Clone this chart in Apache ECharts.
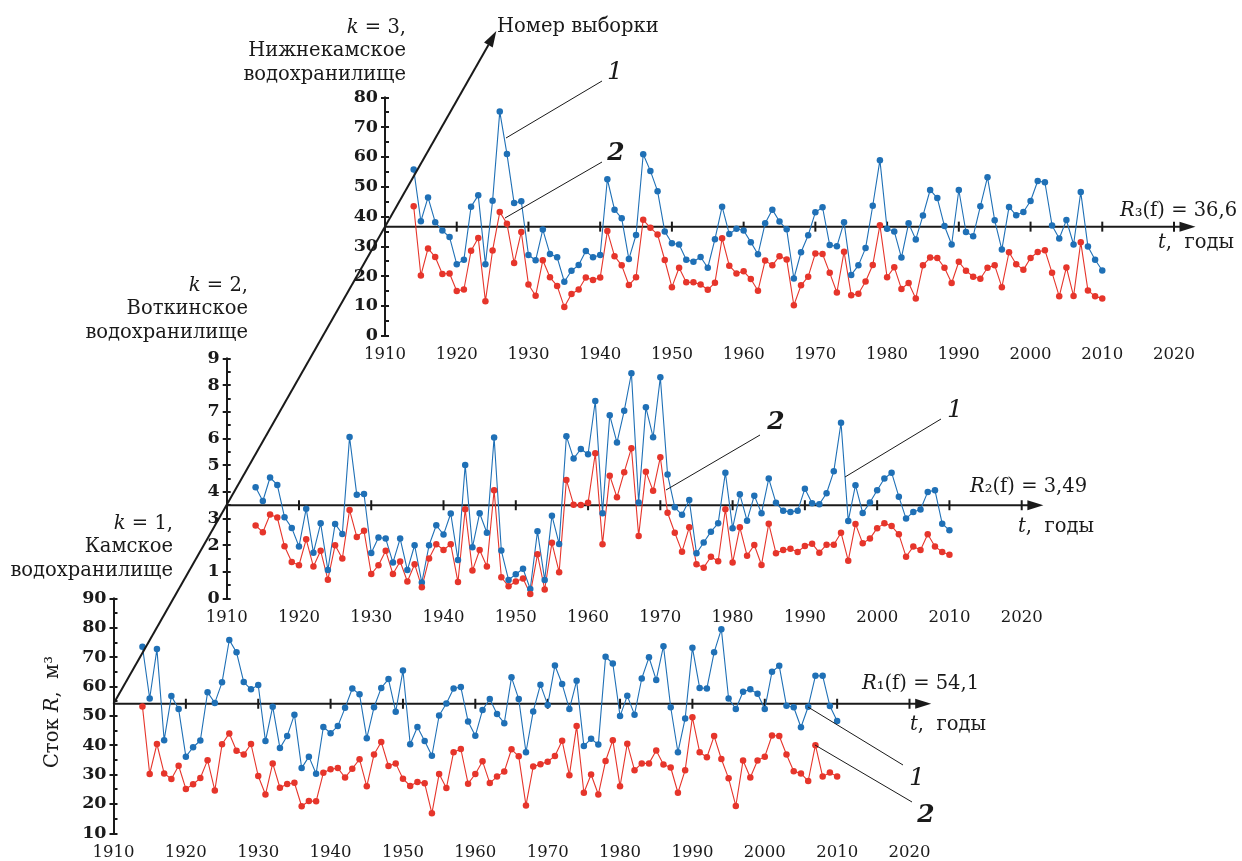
<!DOCTYPE html>
<html>
<head>
<meta charset="utf-8">
<script src="https://cdn.jsdelivr.net/npm/echarts@6/dist/echarts.min.js"></script>
<style>
html,body{margin:0;padding:0;background:#fff;}
#c{width:1242px;height:861px;}
</style>
</head>
<body>
<div id="c"></div>
<script>
// ---- data ----
const FIRST_YEAR = 1914;
const LAST_YEAR = 2010;
const xTicks = [1910, 1920, 1930, 1940, 1950, 1960, 1970, 1980, 1990, 2000, 2010, 2020];

// k = 1, Камское водохранилище
const R1_mean = 54.1;
const kama1 = [73.5,55.9,72.7,41.7,56.7,52.3,36.1,39.3,41.6,58.0,
  54.4,61.4,75.8,71.6,61.5,59.0,60.5,41.4,53.1,39.0,
  43.1,50.4,32.2,36.1,30.3,46.2,44.1,46.5,52.7,59.3,
  57.3,42.4,52.9,59.5,62.5,51.4,65.4,40.3,46.2,41.4,
  36.4,50.1,54.2,59.3,59.8,48.1,43.2,52.0,55.7,50.6,
  47.5,63.1,55.7,37.6,51.5,60.6,53.7,67.1,60.8,52.3,
  61.9,39.7,42.2,40.2,70.1,67.8,49.9,56.8,50.4,62.7,
  69.9,62.2,73.7,52.9,37.6,49.1,73.2,59.5,59.3,71.6,
  79.5,55.9,52.3,58.2,59.0,57.5,52.3,65.0,67.0,53.4,
  52.9,46.1,53.1,63.6,63.6,53.3,48.2];
const kama2 = [53.2,30.2,40.4,30.4,28.5,33.0,25.1,26.7,28.8,34.9,
  24.6,40.3,44.0,38.1,36.8,40.4,29.5,23.2,33.8,25.5,
  26.8,27.2,19.2,21.0,20.9,30.6,31.8,32.2,29.0,32.0,
  35.2,26.0,36.8,41.1,32.9,33.8,28.6,26.1,27.5,27.0,
  16.8,30.2,25.4,37.6,38.7,26.9,30.2,34.5,27.1,29.3,
  31.0,38.6,36.2,19.5,32.7,33.5,34.4,36.3,41.5,29.8,
  46.5,23.8,30.0,23.2,34.6,41.7,26.0,40.5,31.5,33.8,
  33.8,38.2,33.4,32.4,23.8,31.5,49.5,37.6,35.9,43.1,
  35.3,28.7,19.3,34.8,29.0,34.8,36.1,43.3,43.1,36.8,
  31.1,30.4,27.8,40.0,29.3,30.7,29.3];

// k = 2, Воткинское водохранилище
const R2_mean = 3.49;
const votk1 = [4.16,3.65,4.53,4.25,3.04,2.64,1.94,3.36,1.71,2.81,
  1.06,2.79,2.41,6.05,3.88,3.91,1.70,2.28,2.24,1.34,
  2.24,1.06,1.99,0.59,1.99,2.74,2.39,3.18,1.44,5.00,
  1.91,3.19,2.46,6.03,1.79,0.69,0.90,1.11,0.35,2.51,
  0.69,3.10,2.04,6.08,5.24,5.60,5.40,7.40,3.19,6.86,
  5.84,7.03,8.44,3.59,7.16,6.04,8.29,4.64,3.41,3.13,
  3.69,1.69,2.09,2.50,2.81,4.71,2.63,3.90,2.91,3.85,
  3.19,4.49,3.58,3.28,3.24,3.28,4.11,3.56,3.53,3.94,
  4.76,6.58,2.90,4.24,3.20,3.59,4.05,4.49,4.71,3.81,
  2.99,3.24,3.33,3.99,4.05,2.80,2.55];
const votk2 = [2.73,2.48,3.14,3.03,1.95,1.36,1.24,2.21,1.19,1.78,
  0.70,1.99,1.49,3.31,2.30,2.53,0.91,1.24,1.78,0.91,
  1.38,0.63,1.28,0.41,1.49,2.03,1.81,2.03,0.61,3.34,
  1.04,1.81,1.19,4.05,0.79,0.45,0.63,0.74,0.16,1.65,
  0.33,2.08,0.98,4.44,3.51,3.50,3.58,5.44,2.03,4.60,
  3.79,4.73,5.63,2.34,4.75,4.03,5.29,3.21,2.46,1.75,
  2.66,1.28,1.15,1.56,1.39,3.34,1.34,2.66,1.60,2.00,
  1.25,2.80,1.69,1.81,1.86,1.74,1.96,2.05,1.71,2.01,
  2.01,2.46,1.41,2.79,2.06,2.24,2.63,2.81,2.71,2.40,
  1.56,1.94,1.81,2.40,1.94,1.74,1.63];

// k = 3, Нижнекамское водохранилище
const R3_mean = 36.6;
const nizh1 = [55.8,38.4,46.4,38.1,35.3,33.1,24.0,25.5,43.3,47.1,
  24.0,45.3,75.2,61.0,44.5,45.1,27.1,25.3,35.6,27.4,
  26.3,18.1,21.8,23.7,28.4,26.3,27.1,52.5,42.3,39.4,
  25.7,33.8,60.9,55.3,48.5,35.0,31.0,30.6,25.5,24.8,
  26.4,22.8,32.4,43.3,34.1,35.9,35.3,31.4,27.3,37.7,
  42.3,38.3,35.7,19.2,28.0,33.7,41.4,43.1,30.4,30.0,
  38.1,20.4,23.6,29.4,43.6,58.9,35.9,35.0,26.2,37.7,
  32.3,40.3,48.9,46.2,36.8,30.6,48.9,34.8,33.4,43.4,
  53.2,38.7,28.9,43.2,40.4,41.5,45.2,51.9,51.5,37.0,
  32.6,38.8,30.6,48.2,29.9,25.5,21.9];
const nizh2 = [43.4,20.2,29.3,26.4,20.7,20.9,15.0,15.5,28.5,32.8,
  11.6,28.6,41.5,37.6,24.4,34.8,17.2,13.4,25.3,19.6,
  16.7,9.6,14.0,15.5,19.5,18.7,19.5,35.1,26.7,23.6,
  17.0,19.6,38.9,36.2,34.0,25.4,16.3,22.8,17.9,17.9,
  17.2,15.4,17.8,32.7,23.5,20.9,21.6,19.0,15.1,25.2,
  23.6,26.7,25.6,10.2,16.9,19.8,27.6,27.4,21.1,14.5,
  28.2,13.6,14.1,18.2,23.7,37.1,19.6,23.0,15.7,17.7,
  12.5,23.6,26.2,26.1,22.8,17.7,24.8,21.8,19.8,19.1,
  22.8,23.6,16.3,28.0,24.0,22.1,26.1,28.1,28.7,21.1,
  13.2,22.9,13.3,31.4,15.2,13.2,12.5];

const yTicks1 = {min: 10, max: 90, step: 10};
const yTicks2 = {min: 0, max: 9, step: 1};
const yTicks3 = {min: 0, max: 80, step: 10};

// ---- chart ----
const years = [];
for (let y = FIRST_YEAR; y <= LAST_YEAR; y++) years.push(y);
const pairs = arr => arr.map((v, i) => [years[i], v]);

const BLUE = '#1f70b6';
const RED = '#e6352b';
const INK = '#1a1a1a';
const SERIF = 'DejaVu Serif';
const AXIS_END = 2023; // arrow tip of the horizontal axis

const grids = [
  {left: 113.5, top: 598.3, width: 796, height: 235},
  {left: 226.7, top: 358.3, width: 795, height: 240},
  {left: 385, top: 97.3, width: 789, height: 238.4}
];

const xAxes = grids.map((g, i) => ({
  type: 'value', gridIndex: i, min: xTicks[0], max: xTicks[xTicks.length - 1], interval: 10,
  axisLine: {show: false}, axisTick: {show: false}, splitLine: {show: false},
  axisLabel: {fontFamily: SERIF, fontSize: 16.5, color: INK, margin: 11,
    formatter: v => String(v), showMinLabel: true, showMaxLabel: true}
}));

const yDefs = [yTicks1, yTicks2, yTicks3];
const yAxes = [];
yDefs.forEach((d, i) => {
  yAxes.push({
    type: 'value', gridIndex: i, position: 'left', min: d.min, max: d.max, interval: d.step,
    axisLine: {show: true, lineStyle: {color: INK, width: 2}},
    axisTick: {show: true, inside: false, length: 4, lineStyle: {color: INK, width: 2}},
    splitLine: {show: false},
    axisLabel: {fontFamily: SERIF, fontSize: 17.5, fontWeight: 'bold', color: INK, margin: 7}
  });
  yAxes.push({
    type: 'value', gridIndex: i, position: 'left', min: d.min, max: d.max, interval: d.step,
    axisLine: {show: false},
    axisTick: {show: true, inside: true, length: 4, lineStyle: {color: INK, width: 2}},
    minorTick: {show: true, splitNumber: 2, length: 4, lineStyle: {color: INK, width: 2}},
    splitLine: {show: false}, axisLabel: {show: false}
  });
});

function meanAxisSeries(gi, mean) {
  return {
    type: 'custom', xAxisIndex: gi, yAxisIndex: gi * 2, clip: false, z: 1, silent: true,
    data: [[xTicks[0], mean]],
    renderItem: function (params, api) {
      const y = api.value(1);
      const p0 = api.coord([xTicks[0], y]);
      const p1 = api.coord([AXIS_END, y]);
      const children = [{
        type: 'line', shape: {x1: p0[0], y1: p0[1], x2: p1[0] - 6, y2: p1[1]},
        style: {stroke: INK, lineWidth: 2}
      }, {
        type: 'polygon', shape: {points: [[p1[0], p1[1]], [p1[0] - 16, p1[1] - 5], [p1[0] - 16, p1[1] + 5]]},
        style: {fill: INK}
      }];
      xTicks.slice(1).forEach(t => {
        const p = api.coord([t, y]);
        children.push({type: 'line', shape: {x1: p[0], y1: p[1] - 5, x2: p[0], y2: p[1] + 5}, style: {stroke: INK, lineWidth: 2}});
      });
      return {type: 'group', children: children};
    }
  };
}

function lineSeries(gi, arr, color, name) {
  return {
    name: name, type: 'line', xAxisIndex: gi, yAxisIndex: gi * 2, data: pairs(arr),
    symbol: 'circle', symbolSize: 6.5, showSymbol: true, z: 3,
    itemStyle: {color: color}, lineStyle: {color: color, width: 1.1}, animation: false
  };
}

const chart = echarts.init(document.getElementById('c'), null, {renderer: 'canvas'});
chart.setOption({
  backgroundColor: '#fff',
  animation: false,
  grid: grids.map(g => Object.assign({containLabel: false, outerBoundsMode: 'none'}, g)),
  xAxis: xAxes,
  yAxis: yAxes,
  series: [
    meanAxisSeries(0, R1_mean), meanAxisSeries(1, R2_mean), meanAxisSeries(2, R3_mean),
    lineSeries(0, kama1, BLUE, '1'), lineSeries(0, kama2, RED, '2'),
    lineSeries(1, votk1, BLUE, '1'), lineSeries(1, votk2, RED, '2'),
    lineSeries(2, nizh1, BLUE, '1'), lineSeries(2, nizh2, RED, '2')
  ]
});

// ---- annotations ----
const o1 = chart.convertToPixel({gridIndex: 0}, [xTicks[0], R1_mean]);
const o3 = chart.convertToPixel({gridIndex: 2}, [xTicks[0], R3_mean]);
const ext = 0.41;
const tip = [o3[0] + (o3[0] - o1[0]) * ext, o3[1] + (o3[1] - o1[1]) * ext];
const dx = tip[0] - o1[0], dy = tip[1] - o1[1];
const L = Math.sqrt(dx * dx + dy * dy);
const ux = dx / L, uy = dy / L, nx = -uy, ny = ux;
const ah = 16, aw = 5;
const base = [tip[0] - ux * ah, tip[1] - uy * ah];

const F = 19.5;
function rich(fs) {
  return {
    n: {fontFamily: SERIF, fontSize: fs, fill: INK},
    i: {fontFamily: SERIF, fontSize: fs, fontStyle: 'italic', fill: INK}
  };
}
function txt(x, y, text, opt) {
  opt = opt || {};
  return {
    type: 'text', x: x, y: y, rotation: opt.rotation || 0, z: 10,
    style: {
      text: text, fontFamily: SERIF, fontSize: opt.fs || F, fill: INK,
      fontStyle: opt.italic ? 'italic' : 'normal', fontWeight: opt.bold ? 'bold' : 'normal',
      align: opt.align || 'left', verticalAlign: opt.va || 'middle',
      lineHeight: opt.lh || 23.5, rich: rich(opt.fs || F)
    }
  };
}
function seg(x1, y1, x2, y2, w) {
  return {type: 'line', z: 10, shape: {x1: x1, y1: y1, x2: x2, y2: y2}, style: {stroke: INK, lineWidth: w || 1}};
}

const graphics = [
  seg(o1[0], o1[1], base[0], base[1], 2),
  {type: 'polygon', z: 10, shape: {points: [tip, [base[0] + nx * aw, base[1] + ny * aw], [base[0] - nx * aw, base[1] - ny * aw]]}, style: {fill: INK}},
  txt(497, 27, 'Номер выборки'),
  txt(406, 16, '{i|k} = 3,\nНижнекамское\nводохранилище', {align: 'right', va: 'top'}),
  txt(248, 274, '{i|k} = 2,\nВоткинское\nводохранилище', {align: 'right', va: 'top'}),
  txt(173, 512, '{i|k} = 1,\nКамское\nводохранилище', {align: 'right', va: 'top'}),
  txt(1120, 211, '{i|R}₃(f) = 36,6'),
  txt(1158, 243, '{i|t},  годы'),
  txt(970, 487, '{i|R}₂(f) = 3,49'),
  txt(1018, 527, '{i|t},  годы'),
  txt(862, 684, '{i|R}₁(f) = 54,1'),
  txt(910, 725, '{i|t},  годы'),
  txt(53, 712, 'Сток {i|R},  м³', {align: 'center', rotation: Math.PI / 2}),
  // curve labels with leader lines
  seg(602, 81, 506, 138), txt(615, 72, '1', {italic: true, fs: 25, align: 'center'}),
  seg(602, 162, 505, 218), txt(616, 153, '2', {italic: true, bold: true, fs: 25, align: 'center'}),
  seg(760, 435, 666, 490), txt(776, 422, '2', {italic: true, bold: true, fs: 25, align: 'center'}),
  seg(941, 419, 845, 477), txt(955, 410, '1', {italic: true, fs: 25, align: 'center'}),
  seg(903, 765, 808, 707), txt(917, 778, '1', {italic: true, fs: 25, align: 'center'}),
  seg(912, 802, 815, 745), txt(926, 815, '2', {italic: true, bold: true, fs: 25, align: 'center'})
];
chart.setOption({graphic: graphics});
</script>
</body>
</html>
